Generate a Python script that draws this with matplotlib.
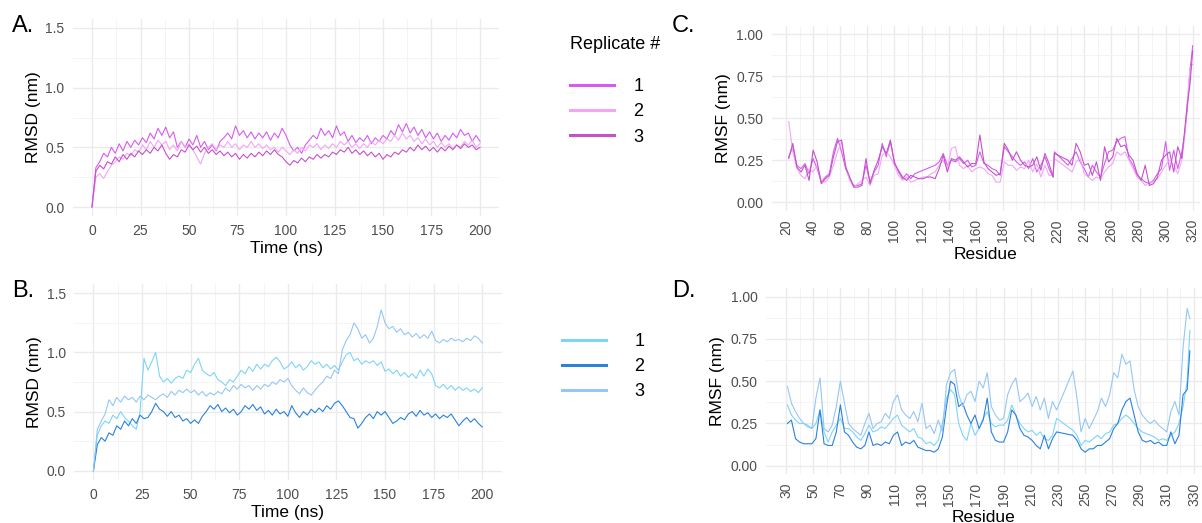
import numpy as np
import matplotlib
matplotlib.use("Agg")
import matplotlib.pyplot as plt
from matplotlib.lines import Line2D
from matplotlib.ticker import MultipleLocator, FormatStrFormatter

plt.rcParams["font.family"] = ["Liberation Sans", "DejaVu Sans"]

# ---- RMSD vs time (ns), sampled every 2 ns ----
time_ns = np.arange(0, 201, 2)

rmsd_a1 = [0.00, 0.33, 0.38, 0.45, 0.42, 0.50, 0.45, 0.53, 0.47, 0.55, 0.50, 0.56, 0.52, 0.58, 0.54, 0.62,
           0.57, 0.66, 0.60, 0.67, 0.58, 0.63, 0.50, 0.55, 0.50, 0.57, 0.52, 0.60, 0.50, 0.55, 0.48, 0.52,
           0.47, 0.55, 0.58, 0.62, 0.57, 0.68, 0.60, 0.64, 0.58, 0.63, 0.57, 0.62, 0.58, 0.63, 0.56, 0.62,
           0.58, 0.66, 0.60, 0.52, 0.47, 0.50, 0.45, 0.52, 0.56, 0.60, 0.57, 0.66, 0.60, 0.64, 0.58, 0.68,
           0.60, 0.63, 0.55, 0.60, 0.54, 0.58, 0.55, 0.60, 0.53, 0.58, 0.55, 0.60, 0.57, 0.64, 0.60, 0.69,
           0.63, 0.70, 0.62, 0.67, 0.60, 0.65, 0.58, 0.63, 0.57, 0.62, 0.55, 0.60, 0.56, 0.62, 0.58, 0.65,
           0.60, 0.62, 0.55, 0.60, 0.55]
rmsd_a2 = [0.00, 0.25, 0.28, 0.24, 0.30, 0.35, 0.38, 0.42, 0.40, 0.45, 0.43, 0.48, 0.46, 0.52, 0.48, 0.55,
           0.50, 0.56, 0.52, 0.55, 0.48, 0.52, 0.47, 0.55, 0.50, 0.53, 0.48, 0.42, 0.36, 0.45, 0.50, 0.53,
           0.48, 0.52, 0.50, 0.55, 0.50, 0.53, 0.48, 0.52, 0.50, 0.55, 0.50, 0.53, 0.49, 0.52, 0.48, 0.50,
           0.46, 0.50, 0.47, 0.44, 0.48, 0.45, 0.50, 0.47, 0.52, 0.50, 0.53, 0.48, 0.52, 0.49, 0.53, 0.50,
           0.55, 0.52, 0.55, 0.50, 0.53, 0.49, 0.53, 0.50, 0.55, 0.52, 0.56, 0.53, 0.57, 0.55, 0.60, 0.56,
           0.62, 0.57, 0.60, 0.55, 0.58, 0.53, 0.57, 0.52, 0.55, 0.50, 0.54, 0.50, 0.53, 0.49, 0.52, 0.50,
           0.55, 0.52, 0.56, 0.50, 0.53]
rmsd_a3 = [0.00, 0.30, 0.35, 0.32, 0.38, 0.36, 0.42, 0.38, 0.44, 0.40, 0.45, 0.42, 0.47, 0.44, 0.48, 0.45,
           0.50, 0.47, 0.52, 0.45, 0.40, 0.44, 0.42, 0.48, 0.46, 0.52, 0.48, 0.51, 0.46, 0.50, 0.45, 0.48,
           0.44, 0.47, 0.43, 0.46, 0.42, 0.45, 0.40, 0.44, 0.41, 0.45, 0.42, 0.46, 0.43, 0.47, 0.44, 0.48,
           0.44, 0.42, 0.38, 0.35, 0.39, 0.37, 0.41, 0.38, 0.42, 0.40, 0.44, 0.41, 0.44, 0.42, 0.46, 0.44,
           0.48, 0.46, 0.50, 0.45, 0.48, 0.44, 0.47, 0.43, 0.46, 0.42, 0.45, 0.40, 0.44, 0.42, 0.46, 0.44,
           0.48, 0.46, 0.50, 0.47, 0.52, 0.48, 0.51, 0.47, 0.50, 0.46, 0.50, 0.47, 0.51, 0.48, 0.52, 0.49,
           0.53, 0.50, 0.52, 0.48, 0.50]

rmsd_b1 = [0.00, 0.30, 0.38, 0.42, 0.40, 0.47, 0.44, 0.50, 0.45, 0.42, 0.38, 0.35, 0.50, 0.95, 0.85, 0.92,
           1.00, 0.80, 0.75, 0.78, 0.74, 0.78, 0.80, 0.78, 0.85, 0.83, 0.90, 0.95, 0.85, 0.82, 0.80, 0.83,
           0.77, 0.75, 0.72, 0.77, 0.75, 0.80, 0.85, 0.82, 0.88, 0.84, 0.90, 0.86, 0.90, 0.88, 0.93, 0.96,
           0.92, 0.86, 0.88, 0.92, 0.87, 0.90, 0.85, 0.88, 0.93, 0.90, 0.92, 0.87, 0.90, 0.86, 0.89, 0.85,
           0.92, 0.98, 1.00, 0.93, 0.95, 0.90, 0.93, 0.91, 0.93, 0.89, 0.92, 0.84, 0.86, 0.82, 0.85, 0.80,
           0.83, 0.79, 0.82, 0.78, 0.85, 0.80, 0.86, 0.82, 0.72, 0.70, 0.73, 0.69, 0.72, 0.68, 0.71, 0.68,
           0.70, 0.67, 0.69, 0.66, 0.70]
rmsd_b2 = [0.00, 0.22, 0.28, 0.25, 0.32, 0.30, 0.38, 0.35, 0.42, 0.38, 0.44, 0.40, 0.47, 0.44, 0.45, 0.50,
           0.57, 0.52, 0.50, 0.46, 0.50, 0.45, 0.47, 0.42, 0.44, 0.40, 0.43, 0.40, 0.46, 0.50, 0.55, 0.52,
           0.56, 0.50, 0.53, 0.49, 0.52, 0.47, 0.50, 0.55, 0.52, 0.56, 0.51, 0.54, 0.48, 0.51, 0.47, 0.52,
           0.48, 0.50, 0.46, 0.55, 0.49, 0.45, 0.50, 0.47, 0.52, 0.49, 0.53, 0.50, 0.55, 0.52, 0.57, 0.59,
           0.55, 0.50, 0.45, 0.44, 0.36, 0.40, 0.45, 0.48, 0.44, 0.50, 0.47, 0.50, 0.45, 0.40, 0.42, 0.45,
           0.43, 0.48, 0.50, 0.46, 0.51, 0.47, 0.49, 0.45, 0.48, 0.44, 0.47, 0.45, 0.48, 0.43, 0.38, 0.42,
           0.45, 0.41, 0.44, 0.40, 0.37]
rmsd_b3 = [0.00, 0.35, 0.42, 0.48, 0.60, 0.55, 0.62, 0.58, 0.63, 0.60, 0.62, 0.58, 0.63, 0.60, 0.64, 0.62,
           0.60, 0.63, 0.65, 0.62, 0.67, 0.64, 0.68, 0.66, 0.69, 0.66, 0.68, 0.64, 0.67, 0.63, 0.66, 0.64,
           0.67, 0.65, 0.70, 0.67, 0.72, 0.69, 0.73, 0.70, 0.72, 0.68, 0.72, 0.69, 0.73, 0.71, 0.75, 0.73,
           0.77, 0.75, 0.78, 0.72, 0.68, 0.65, 0.70, 0.66, 0.64, 0.68, 0.72, 0.75, 0.80, 0.78, 0.85, 0.82,
           1.02, 1.10, 1.15, 1.25, 1.20, 1.12, 1.15, 1.08, 1.12, 1.22, 1.36, 1.25, 1.20, 1.22, 1.17, 1.20,
           1.15, 1.17, 1.13, 1.16, 1.12, 1.15, 1.12, 1.18, 1.10, 1.08, 1.11, 1.09, 1.12, 1.10, 1.11, 1.09,
           1.12, 1.10, 1.14, 1.12, 1.08]

# ---- RMSF per residue ----
res_c = [22, 25, 28, 31, 34, 37, 40, 43, 46, 49, 52, 55, 58, 61, 64, 67, 70, 73, 76, 79, 82, 85, 88, 91,
         94, 97, 100, 103, 106, 109, 112, 115, 118, 121, 124, 127, 130, 133, 136, 139, 142, 145, 148, 151,
         154, 157, 160, 163, 166, 169, 172, 175, 178, 181, 184, 187, 190, 193, 196, 199, 202, 205, 208,
         211, 214, 217, 218, 228, 231, 234, 237, 240, 243, 246, 249, 252, 255, 258, 261, 264, 267, 270,
         273, 276, 279, 282, 285, 288, 291, 294, 297, 300, 303, 306, 309, 312, 314, 316, 318, 320]
rmsf_c1 = [0.27, 0.33, 0.22, 0.20, 0.23, 0.17, 0.26, 0.20, 0.12, 0.15, 0.17, 0.30, 0.38, 0.30, 0.20, 0.14,
           0.10, 0.10, 0.11, 0.22, 0.12, 0.18, 0.22, 0.35, 0.27, 0.36, 0.24, 0.18, 0.14, 0.17, 0.14, 0.17,
           0.18, 0.19, 0.20, 0.21, 0.22, 0.24, 0.29, 0.22, 0.25, 0.24, 0.26, 0.23, 0.25, 0.21, 0.22, 0.30,
           0.23, 0.22, 0.20, 0.19, 0.16, 0.33, 0.30, 0.27, 0.24, 0.22, 0.24, 0.20, 0.26, 0.18, 0.22, 0.27,
           0.20, 0.15, 0.30, 0.22, 0.26, 0.30, 0.24, 0.20, 0.15, 0.22, 0.18, 0.15, 0.23, 0.30, 0.31, 0.36,
           0.38, 0.39, 0.26, 0.22, 0.16, 0.14, 0.12, 0.11, 0.13, 0.17, 0.20, 0.36, 0.19, 0.31, 0.20, 0.30,
           0.40, 0.55, 0.78, 0.93]
rmsf_c2 = [0.48, 0.30, 0.20, 0.16, 0.14, 0.20, 0.18, 0.22, 0.13, 0.12, 0.15, 0.22, 0.30, 0.36, 0.22, 0.13,
           0.09, 0.11, 0.13, 0.15, 0.10, 0.16, 0.17, 0.28, 0.30, 0.27, 0.22, 0.16, 0.13, 0.15, 0.12, 0.13,
           0.14, 0.15, 0.15, 0.17, 0.18, 0.22, 0.25, 0.20, 0.32, 0.33, 0.22, 0.20, 0.22, 0.18, 0.20, 0.21,
           0.20, 0.17, 0.16, 0.12, 0.12, 0.24, 0.22, 0.22, 0.19, 0.21, 0.20, 0.25, 0.18, 0.23, 0.15, 0.22,
           0.16, 0.16, 0.26, 0.20, 0.18, 0.24, 0.26, 0.17, 0.15, 0.13, 0.15, 0.14, 0.18, 0.21, 0.23, 0.30,
           0.28, 0.30, 0.25, 0.20, 0.15, 0.13, 0.10, 0.12, 0.12, 0.14, 0.18, 0.22, 0.25, 0.22, 0.17, 0.25,
           0.38, 0.60, 0.80, 0.82]
rmsf_c3 = [0.26, 0.35, 0.21, 0.18, 0.22, 0.13, 0.31, 0.24, 0.11, 0.14, 0.16, 0.27, 0.36, 0.37, 0.21, 0.15,
           0.09, 0.09, 0.10, 0.26, 0.11, 0.19, 0.25, 0.33, 0.29, 0.37, 0.23, 0.19, 0.15, 0.13, 0.16, 0.15,
           0.14, 0.14, 0.15, 0.15, 0.14, 0.20, 0.28, 0.18, 0.26, 0.25, 0.27, 0.24, 0.21, 0.23, 0.23, 0.40,
           0.24, 0.20, 0.18, 0.16, 0.17, 0.35, 0.31, 0.25, 0.30, 0.25, 0.22, 0.21, 0.22, 0.27, 0.19, 0.29,
           0.23, 0.15, 0.29, 0.25, 0.22, 0.35, 0.30, 0.22, 0.23, 0.16, 0.24, 0.13, 0.33, 0.24, 0.27, 0.38,
           0.33, 0.34, 0.28, 0.25, 0.17, 0.13, 0.22, 0.10, 0.11, 0.15, 0.25, 0.28, 0.30, 0.18, 0.33, 0.26,
           0.42, 0.58, 0.70, 0.90]

res_d = list(range(31, 230, 3)) + list(range(241, 326, 3)) + [327]
rmsf_d1 = [0.36, 0.30, 0.27, 0.25, 0.25, 0.23, 0.22, 0.25, 0.33, 0.20, 0.14, 0.20, 0.24, 0.28, 0.22, 0.22,
           0.20, 0.17, 0.15, 0.19, 0.24, 0.20, 0.21, 0.23, 0.22, 0.25, 0.28, 0.30, 0.24, 0.22, 0.20, 0.22,
           0.17, 0.16, 0.13, 0.14, 0.12, 0.15, 0.25, 0.40, 0.45, 0.42, 0.25, 0.18, 0.15, 0.25, 0.18, 0.22,
           0.28, 0.32, 0.25, 0.23, 0.24, 0.24, 0.27, 0.36, 0.30, 0.25, 0.22, 0.20, 0.21, 0.18, 0.20, 0.16,
           0.15, 0.18, 0.28, 0.21, 0.18, 0.12, 0.15, 0.14, 0.16, 0.18, 0.16, 0.19, 0.20, 0.24, 0.25, 0.28,
           0.30, 0.28, 0.25, 0.22, 0.20, 0.19, 0.18, 0.17, 0.15, 0.16, 0.15, 0.18, 0.20, 0.25, 0.35, 0.50,
           0.80]
rmsf_d2 = [0.25, 0.27, 0.16, 0.14, 0.13, 0.13, 0.13, 0.16, 0.33, 0.13, 0.12, 0.12, 0.20, 0.36, 0.20, 0.18,
           0.14, 0.11, 0.10, 0.12, 0.20, 0.12, 0.13, 0.12, 0.14, 0.13, 0.18, 0.20, 0.12, 0.14, 0.13, 0.15,
           0.11, 0.10, 0.09, 0.09, 0.08, 0.10, 0.17, 0.35, 0.50, 0.48, 0.35, 0.37, 0.30, 0.25, 0.30, 0.22,
           0.27, 0.40, 0.20, 0.15, 0.14, 0.14, 0.20, 0.33, 0.30, 0.22, 0.18, 0.17, 0.15, 0.12, 0.10, 0.18,
           0.10, 0.16, 0.20, 0.18, 0.15, 0.10, 0.08, 0.10, 0.10, 0.12, 0.12, 0.14, 0.16, 0.22, 0.25, 0.33,
           0.38, 0.40, 0.30, 0.20, 0.15, 0.14, 0.15, 0.13, 0.14, 0.12, 0.12, 0.20, 0.13, 0.18, 0.42, 0.45,
           0.68]
rmsf_d3 = [0.47, 0.37, 0.32, 0.28, 0.25, 0.24, 0.22, 0.40, 0.52, 0.22, 0.20, 0.24, 0.35, 0.50, 0.37, 0.25,
           0.22, 0.20, 0.18, 0.25, 0.31, 0.22, 0.25, 0.26, 0.31, 0.28, 0.38, 0.42, 0.33, 0.30, 0.28, 0.32,
           0.26, 0.37, 0.22, 0.24, 0.19, 0.27, 0.20, 0.48, 0.55, 0.57, 0.42, 0.35, 0.42, 0.44, 0.38, 0.50,
           0.46, 0.55, 0.35, 0.30, 0.27, 0.28, 0.42, 0.48, 0.52, 0.38, 0.40, 0.43, 0.35, 0.41, 0.33, 0.40,
           0.28, 0.38, 0.33, 0.56, 0.40, 0.20, 0.28, 0.22, 0.27, 0.32, 0.40, 0.35, 0.42, 0.55, 0.52, 0.66,
           0.60, 0.62, 0.45, 0.35, 0.30, 0.27, 0.25, 0.27, 0.24, 0.22, 0.20, 0.32, 0.38, 0.30, 0.70, 0.93,
           0.87]

replicates = ["1", "2", "3"]
pink_colors = ["#D65CF0", "#F2A6F7", "#C452C9"]
blue_colors = ["#7FD4F7", "#2A82DC", "#95C7F5"]

W, H = 1202, 523
fig = plt.figure(figsize=(W / 100, H / 100), dpi=100)


def box(l, t, r, b):
    return [l / W, 1 - b / H, (r - l) / W, (b - t) / H]


def style(ax):
    for s in ax.spines.values():
        s.set_visible(False)
    ax.set_axisbelow(True)
    ax.grid(which="major", color="#EBEBEB", lw=1.0)
    ax.grid(which="minor", color="#F2F2F2", lw=0.6)
    ax.tick_params(which="both", length=0, pad=6, labelsize=10, labelcolor="#4D4D4D")


ax_a = fig.add_axes(box(72.6, 19, 499.4, 216))
ax_b = fig.add_axes(box(74, 284.4, 501.7, 479.6))
ax_c = fig.add_axes(box(771.7, 25.6, 1200, 210.7))
ax_d = fig.add_axes(box(766, 288.2, 1201.7, 474.2))

for ax, series, colors in [(ax_a, [rmsd_a1, rmsd_a2, rmsd_a3], pink_colors),
                           (ax_b, [rmsd_b1, rmsd_b2, rmsd_b3], blue_colors)]:
    style(ax)
    for y, c in zip(series, colors):
        ax.plot(time_ns, y, color=c, lw=0.8)
    ax.set_xlim(-10, 210)
    ax.set_ylim(-0.075, 1.575)
    ax.xaxis.set_major_locator(MultipleLocator(25))
    ax.xaxis.set_minor_locator(MultipleLocator(12.5))
    ax.yaxis.set_major_locator(MultipleLocator(0.5))
    ax.yaxis.set_minor_locator(MultipleLocator(0.25))
    ax.yaxis.set_major_formatter(FormatStrFormatter("%.1f"))
    ax.set_xlabel("Time (ns)", fontsize=12.5, labelpad=2)
    ax.set_ylabel("RMSD (nm)", fontsize=12.5, labelpad=3)

for ax, res, series, colors, xl, start in [
        (ax_c, res_c, [rmsf_c1, rmsf_c2, rmsf_c3], pink_colors, (9.45, 325.4), 20),
        (ax_d, res_d, [rmsf_d1, rmsf_d2, rmsf_d3], blue_colors, (15.3, 335.7), 30)]:
    style(ax)
    for y, c in zip(series, colors):
        ax.plot(res, y, color=c, lw=0.8)
    ax.set_xlim(*xl)
    ax.set_ylim(-0.05, 1.05)
    ax.set_xticks(np.arange(start, start + 301, 20))
    ax.set_xticks(np.arange(start + 10, start + 301, 20), minor=True)
    ax.yaxis.set_major_locator(MultipleLocator(0.25))
    ax.yaxis.set_minor_locator(MultipleLocator(0.125))
    ax.yaxis.set_major_formatter(FormatStrFormatter("%.2f"))
    ax.tick_params(axis="x", labelrotation=90)
    ax.set_xlabel("Residue", fontsize=12.5, labelpad=3)
    ax.set_ylabel("RMSF (nm)", fontsize=12.5, labelpad=4)

for ax, lab, x, y in [(ax_a, "A.", 12, 32), (ax_b, "B.", 12, 297),
                      (ax_c, "C.", 672, 32), (ax_d, "D.", 672, 297)]:
    fig.text(x / W, 1 - y / H, lab, fontsize=17, va="baseline", ha="left")

h1 = [Line2D([], [], color=c, lw=2.2) for c in pink_colors]
h2 = [Line2D([], [], color=c, lw=2.2) for c in blue_colors]
leg1 = fig.legend(h1, replicates, title="Replicate #", loc="upper left",
                  bbox_to_anchor=(554 / W, 1 - 20 / H), frameon=False, fontsize=13,
                  title_fontsize=13, handlelength=2.4, handletextpad=1.1, labelspacing=0.45,
                  alignment="left")
leg1._legend_box.sep = 18
leg2 = fig.legend(h2, replicates, loc="upper left",
                  bbox_to_anchor=(546 / W, 1 - 317 / H), frameon=False, fontsize=13,
                  handlelength=2.4, handletextpad=1.6, labelspacing=0.45)

fig.savefig("out.png", dpi=100)
